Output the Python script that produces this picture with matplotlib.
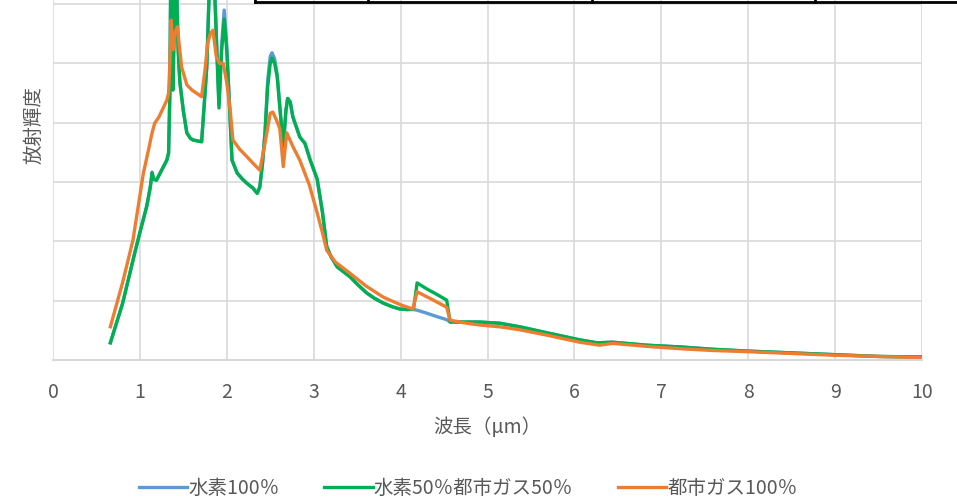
import matplotlib
matplotlib.use("Agg")
import matplotlib.pyplot as plt
from matplotlib.lines import Line2D

plt.rcParams['font.family'] = ['Noto Sans CJK JP', 'DejaVu Sans']

# wavelength grid for 水素100% and 水素50%都市ガス50%
wl_a = [0.66, 0.80, 0.94, 1.00, 1.08, 1.12, 1.14, 1.16, 1.19, 1.25, 1.31, 1.33,
        1.345, 1.355, 1.37, 1.38, 1.40, 1.42, 1.44, 1.46, 1.50, 1.54, 1.58, 1.61,
        1.71, 1.74, 1.77, 1.80, 1.83, 1.86, 1.89, 1.91, 1.94, 1.97, 2.00, 2.02,
        2.06, 2.12, 2.18, 2.23, 2.30, 2.35, 2.38, 2.41, 2.44, 2.47, 2.50, 2.52,
        2.55, 2.58, 2.62, 2.65, 2.68, 2.70, 2.73, 2.76, 2.84, 2.90, 2.96, 3.04,
        3.10, 3.15, 3.20, 3.27, 3.35, 3.42, 3.50, 3.61, 3.70, 3.80, 3.90, 3.99,
        4.08, 4.15, 4.19, 4.30, 4.40, 4.53, 4.57, 4.65, 4.76, 4.91, 5.14, 5.37,
        5.68, 6.06, 6.26, 6.44, 6.83, 7.22, 7.60, 8.00, 8.50, 9.00, 9.50, 10.00]

h2_100 = [0.29, 0.95, 1.80, 2.15, 2.60, 2.92, 3.17, 3.05, 3.03, 3.20, 3.37, 3.49,
          4.5, 6.6, 6.4, 4.6, 6.0, 6.6, 5.3, 4.7, 4.2, 3.83, 3.74, 3.71,
          3.68, 4.3, 4.98, 6.4, 6.8, 6.3, 5.1, 4.3, 5.3, 5.9, 5.3, 4.65,
          3.37, 3.15, 3.05, 2.98, 2.90, 2.81, 2.92, 3.3, 3.85, 4.7, 5.12, 5.18,
          5.08, 4.82, 4.1, 3.6, 4.2, 4.41, 4.35, 4.1, 3.76, 3.65, 3.37, 3.05,
          2.50, 1.91, 1.74, 1.57, 1.48, 1.40, 1.28, 1.13, 1.04, 0.96, 0.90, 0.86,
          0.85, 0.85, 0.84, 0.79, 0.74, 0.68, 0.64, 0.64, 0.64, 0.64, 0.62, 0.56,
          0.46, 0.34, 0.29, 0.30, 0.25, 0.22, 0.18, 0.15, 0.12, 0.09, 0.06, 0.05]

h2_50 = [0.29, 0.95, 1.80, 2.15, 2.60, 2.92, 3.15, 3.05, 3.03, 3.20, 3.37, 3.49,
         4.5, 6.5, 6.3, 4.55, 5.9, 6.4, 5.2, 4.67, 4.2, 3.83, 3.74, 3.71,
         3.68, 4.3, 4.94, 6.3, 6.6, 6.2, 5.0, 4.25, 5.2, 5.75, 5.2, 4.6,
         3.37, 3.15, 3.05, 2.98, 2.90, 2.81, 2.92, 3.3, 3.83, 4.6, 5.00, 5.09,
         5.00, 4.77, 4.1, 3.6, 4.2, 4.41, 4.35, 4.1, 3.76, 3.65, 3.37, 3.05,
         2.50, 1.91, 1.74, 1.57, 1.48, 1.40, 1.28, 1.13, 1.04, 0.96, 0.90, 0.86,
         0.85, 0.87, 1.30, 1.20, 1.12, 1.01, 0.64, 0.64, 0.64, 0.64, 0.62, 0.56,
         0.46, 0.34, 0.29, 0.30, 0.25, 0.22, 0.18, 0.15, 0.12, 0.09, 0.06, 0.05]

# wavelength grid for 都市ガス100%
wl_b = [0.66, 0.80, 0.92, 1.04, 1.10, 1.14, 1.17, 1.22, 1.31, 1.33, 1.345, 1.36,
        1.38, 1.40, 1.43, 1.48, 1.54, 1.60, 1.71, 1.75, 1.78, 1.81, 1.84, 1.88,
        1.92, 1.96, 2.00, 2.04, 2.07, 2.15, 2.23, 2.30, 2.38, 2.44, 2.50, 2.53,
        2.57, 2.61, 2.65, 2.69, 2.76, 2.84, 2.95, 3.04, 3.10, 3.15, 3.25, 3.42,
        3.60, 3.80, 4.00, 4.14, 4.19, 4.35, 4.53, 4.57, 4.76, 4.91, 5.14, 5.37,
        5.68, 6.06, 6.29, 6.44, 6.83, 7.22, 7.60, 8.00, 8.50, 9.00, 9.50, 10.00]

gas_100 = [0.56, 1.30, 2.02, 3.15, 3.55, 3.83, 3.99, 4.10, 4.38, 4.50, 5.0, 5.73,
           5.23, 5.5, 5.62, 4.94, 4.64, 4.55, 4.44, 4.9, 5.34, 5.5, 5.56, 5.11,
           5.0, 5.0, 4.67, 4.2, 3.71, 3.55, 3.43, 3.32, 3.20, 3.66, 4.16, 4.18,
           4.05, 3.90, 3.26, 3.83, 3.60, 3.37, 2.95, 2.48, 2.15, 1.85, 1.65, 1.46,
           1.25, 1.06, 0.93, 0.86, 1.15, 1.03, 0.89, 0.67, 0.62, 0.59, 0.56, 0.51,
           0.42, 0.30, 0.25, 0.28, 0.23, 0.19, 0.16, 0.14, 0.11, 0.08, 0.06, 0.04]

x_ticks = [0, 1, 2, 3, 4, 5, 6, 7, 8, 9, 10]

W, H = 957, 503
fig = plt.figure(figsize=(W / 100, H / 100), dpi=100)
ax = fig.add_axes([53 / W, (H - 360) / H, (922 - 53) / W, 360 / H])

ax.plot(wl_a, h2_100, color='#5B9BD5', lw=2.4, label='水素100％')
ax.plot(wl_a, h2_50, color='#00B050', lw=2.4, label='水素50％都市ガス50％')
ax.plot(wl_b, gas_100, color='#ED7D31', lw=2.4, label='都市ガス100％')

ax.set_xlim(0, 10)
ax.set_ylim(0, 6.07)
ax.set_xticks(x_ticks)
ax.set_yticks([1, 2, 3, 4, 5, 6])
ax.set_yticklabels([])
ax.grid(True, color='#D9D9D9', lw=1.2)
ax.set_axisbelow(True)
ax.tick_params(length=0, labelsize=14, labelcolor='#595959', pad=16)
for s in ['top', 'right', 'left']:
    ax.spines[s].set_visible(False)
ax.spines['bottom'].set_color('#D9D9D9')
ax.spines['bottom'].set_linewidth(1.5)

ax.set_xlabel('波長（μm）', fontsize=14, color='#595959', labelpad=10)
ax.set_ylabel('放射輝度', fontsize=14, color='#595959')
ax.yaxis.set_label_coords(-9 / (922 - 53), (360 - 125) / 360)

leg = fig.legend(loc='center', bbox_to_anchor=(468 / W, (H - 488) / H), ncol=3,
                 frameon=False, fontsize=14, handlelength=2.5, handletextpad=0.05,
                 columnspacing=2.3)
for t in leg.get_texts():
    t.set_color('#595959')

# edge of a table that sits above the chart
fig.add_artist(Line2D([255 / W, 1.0], [(H - 2) / H, (H - 2) / H], color='black', lw=2))
for px in [255, 368, 592, 815]:
    fig.add_artist(Line2D([px / W, px / W], [(H - 2) / H, 1.0], color='black', lw=2))

fig.savefig('out.png', dpi=100)
